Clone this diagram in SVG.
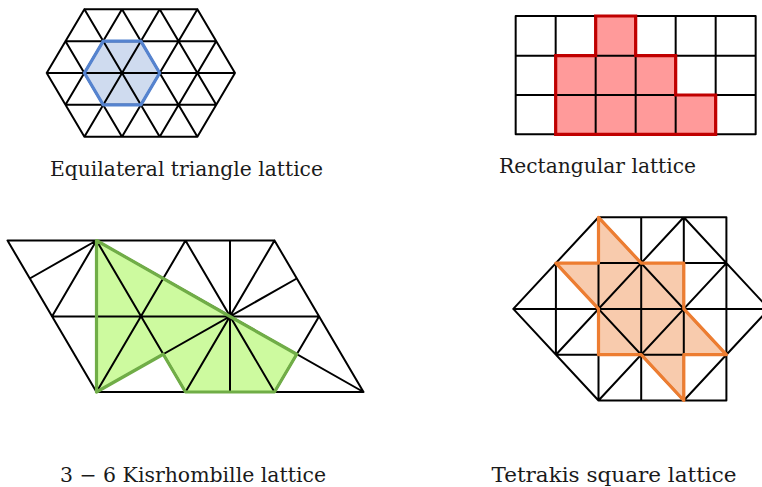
<svg xmlns="http://www.w3.org/2000/svg" width="762" height="487" viewBox="0 0 762 487">
<style>
.ln{stroke:#000;stroke-width:2;fill:none;stroke-linecap:round;stroke-linejoin:round}
.lbl{font-family:"DejaVu Serif","Liberation Serif",serif;font-size:20px;fill:#1a1a1a}
.blueF{fill:#cfdbef;stroke:none}
.blueS{fill:none;stroke:#5583cf;stroke-width:3.2;stroke-linejoin:round}
.redF{fill:#ff9a9a;stroke:none}
.redS{fill:none;stroke:#c00000;stroke-width:3.2;stroke-linejoin:miter}
.greenF{fill:#cdfa9f;stroke:none}
.greenS{fill:none;stroke:#70ad47;stroke-width:3.2;stroke-linejoin:round}
.orF{fill:#f8cbad;stroke:none}
.orS{fill:none;stroke:#ed7d31;stroke-width:3.2;stroke-linejoin:round}
</style>
<rect width="762" height="487" fill="#fff"/>

<g id="equilateral">
<polygon class="blueF" points="103.2,41.15 140.9,41.15 159.7,73 140.9,104.85 103.2,104.85 84.4,73"/>
<path class="ln" d="M84.4,9.3H197.4 M65.5,41.15H216.2 M46.7,73H235 M65.5,104.85H216.2 M84.4,136.7H197.4
M46.7,73L84.4,136.7 M65.5,41.15L122,136.7 M84.4,9.3L159.7,136.7 M122,9.3L197.4,136.7 M159.7,9.3L216.2,104.85 M197.4,9.3L235,73
M84.4,9.3L46.7,73 M122,9.3L65.5,104.85 M159.7,9.3L84.4,136.7 M197.4,9.3L122,136.7 M216.2,41.15L159.7,136.7 M235,73L197.4,136.7"/>
<polygon class="blueS" points="103.2,41.15 140.9,41.15 159.7,73 140.9,104.85 103.2,104.85 84.4,73"/>
<text class="lbl" x="50" y="175.5" textLength="273" lengthAdjust="spacingAndGlyphs">Equilateral triangle lattice</text>
</g>

<g id="rectangular">
<polygon class="redF" points="595.67,16 635.67,16 635.67,55.67 675.67,55.67 675.67,95 715.67,95 715.67,134.33 555.67,134.33 555.67,55.67 595.67,55.67"/>
<path class="ln" d="M515.67,16H755.67 M515.67,55.67H755.67 M515.67,95H755.67 M515.67,134.33H755.67
M515.67,16V134.33 M555.67,16V134.33 M595.67,16V134.33 M635.67,16V134.33 M675.67,16V134.33 M715.67,16V134.33 M755.67,16V134.33"/>
<polygon class="redS" points="595.67,16 635.67,16 635.67,55.67 675.67,55.67 675.67,95 715.67,95 715.67,134.33 555.67,134.33 555.67,55.67 595.67,55.67"/>
<text class="lbl" x="499" y="172.5" textLength="197" lengthAdjust="spacingAndGlyphs">Rectangular lattice</text>
</g>

<g id="kisrhombille">
<polygon class="greenF" points="96.5,240.5 230,316.5 296.75,354.25 274.5,392 185.5,392 163.25,354.25 96.5,392"/>
<path class="ln" d="M7.5,240.5H274.5 M52,316.5H319 M96.5,392H363.5
M7.5,240.5L96.5,392 M96.5,240.5L185.5,392 M185.5,240.5L274.5,392 M274.5,240.5L363.5,392
M96.5,240.5L52,316.5 M185.5,240.5L96.5,392 M274.5,240.5L185.5,392 M319,316.5L274.5,392
M96.5,240.5V392 M230,240.5V392 M96.5,240.5L29.75,278.5 M96.5,240.5L363.5,392 M96.5,392L296.75,278.5"/>
<polygon class="greenS" points="96.5,240.5 230,316.5 296.75,354.25 274.5,392 185.5,392 163.25,354.25 96.5,392"/>
<text class="lbl" x="60" y="482" textLength="266" lengthAdjust="spacingAndGlyphs">3 − 6 Kisrhombille lattice</text>
</g>

<g id="tetrakis">
<polygon class="orF" points="598.5,217.3 641.2,263.1 683.8,263.1 683.8,308.9 726.4,354.7 683.8,354.7 683.8,400.5 641.2,354.7 598.5,354.7 598.5,308.9 555.9,263.1 598.5,263.1"/>
<path class="ln" d="M598.5,217.3H726.4 M555.9,263.1H726.4 M513.3,308.9H769 M555.9,354.7H726.4 M598.5,400.5H726.4
M555.9,263.1V354.7 M598.5,217.3V400.5 M641.2,217.3V400.5 M683.8,217.3V400.5 M726.4,217.3V400.5
M513.3,308.9L598.5,400.5 M555.9,263.1L683.8,400.5 M598.5,217.3L726.4,354.7 M683.8,217.3L769,308.9
M598.5,217.3L513.3,308.9 M683.8,217.3L555.9,354.7 M726.4,263.1L598.5,400.5 M769,308.9L683.8,400.5"/>
<polygon class="orS" points="598.5,217.3 641.2,263.1 683.8,263.1 683.8,308.9 726.4,354.7 683.8,354.7 683.8,400.5 641.2,354.7 598.5,354.7 598.5,308.9 555.9,263.1 598.5,263.1"/>
<text class="lbl" x="491.5" y="482" textLength="245" lengthAdjust="spacingAndGlyphs">Tetrakis square lattice</text>
</g>
</svg>
